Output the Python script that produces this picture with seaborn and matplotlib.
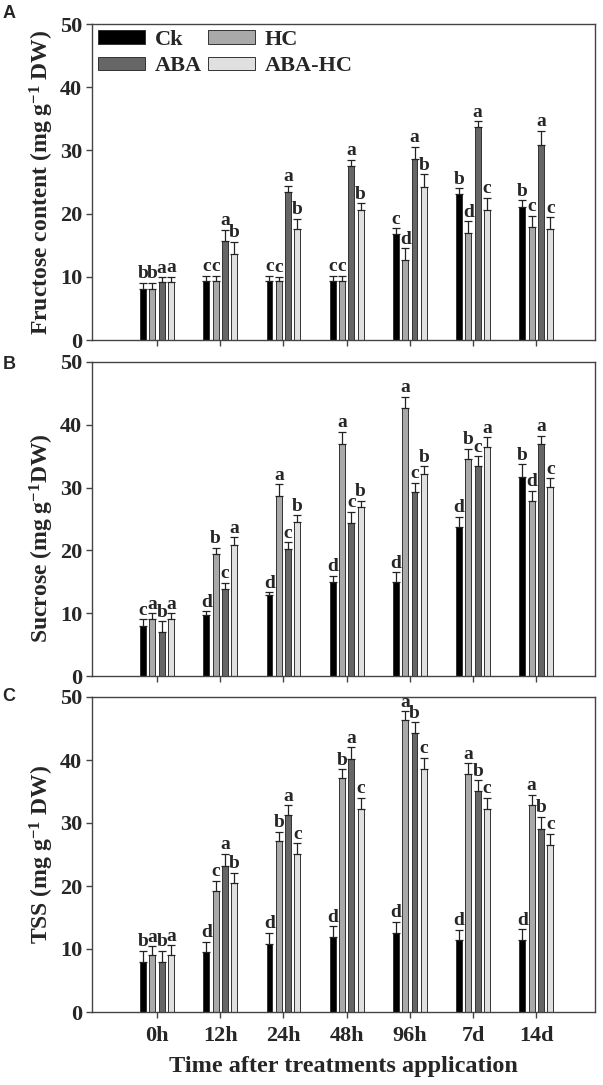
import pandas as pd
import seaborn as sns
import matplotlib.pyplot as plt

# time points and treatments
times = ['0h', '12h', '24h', '48h', '96h', '7d', '14d']
treatments = ['Ck', 'HC', 'ABA', 'ABA-HC']
colors = ['#000000', '#a9a9a9', '#666666', '#e0e0e0']

# Fructose content (mg g-1 DW)
fru_ck = [8.0, 9.4, 9.4, 9.4, 16.8, 23.1, 21.1]
fru_hc = [8.0, 9.4, 9.4, 9.4, 12.7, 17.0, 17.9]
fru_aba = [9.1, 15.7, 23.4, 27.6, 28.7, 33.7, 30.8]
fru_abahc = [9.1, 13.6, 17.5, 20.6, 24.2, 20.6, 17.6]
fru_ck_err = [1.0, 0.8, 0.8, 0.8, 0.9, 0.9, 1.0]
fru_hc_err = [1.0, 0.8, 0.6, 0.8, 1.8, 1.8, 1.7]
fru_aba_err = [0.8, 1.7, 1.0, 0.9, 1.9, 0.9, 2.3]
fru_abahc_err = [0.9, 1.9, 1.7, 1.0, 2.0, 1.9, 1.8]
fru_ck_let = ['b', 'c', 'c', 'c', 'c', 'b', 'b']
fru_hc_let = ['b', 'c', 'c', 'c', 'd', 'd', 'c']
fru_aba_let = ['a', 'a', 'a', 'a', 'a', 'a', 'a']
fru_abahc_let = ['a', 'b', 'b', 'b', 'b', 'c', 'c']

# Sucrose (mg g-1 DW)
suc_ck = [8.0, 9.7, 12.9, 15.0, 15.0, 23.7, 31.7]
suc_hc = [9.0, 19.4, 28.7, 36.9, 42.7, 34.5, 27.8]
suc_aba = [7.0, 13.8, 20.2, 24.3, 29.3, 33.4, 36.9]
suc_abahc = [9.0, 20.9, 24.5, 26.9, 32.2, 36.4, 30.1]
suc_ck_err = [1.0, 0.6, 0.4, 1.0, 1.5, 1.6, 2.0]
suc_hc_err = [1.0, 1.0, 1.8, 2.0, 1.8, 1.7, 1.7]
suc_aba_err = [1.7, 1.0, 1.1, 1.8, 1.5, 1.6, 1.3]
suc_abahc_err = [1.0, 1.2, 1.1, 1.0, 1.2, 1.6, 1.4]
suc_ck_let = ['c', 'd', 'd', 'd', 'd', 'd', 'b']
suc_hc_let = ['a', 'b', 'a', 'a', 'a', 'b', 'd']
suc_aba_let = ['b', 'c', 'c', 'c', 'c', 'c', 'a']
suc_abahc_let = ['a', 'a', 'b', 'b', 'b', 'a', 'c']

# TSS (mg g-1 DW)
tss_ck = [8.0, 9.5, 10.8, 11.9, 12.6, 11.4, 11.5]
tss_hc = [9.0, 19.2, 27.2, 37.1, 46.3, 37.7, 32.8]
tss_aba = [8.0, 23.2, 31.2, 40.2, 44.3, 35.1, 29.0]
tss_abahc = [9.0, 20.4, 25.1, 32.2, 38.6, 32.3, 26.5]
tss_ck_err = [1.7, 1.6, 1.8, 1.7, 1.7, 1.6, 1.6]
tss_hc_err = [1.4, 1.6, 1.4, 1.4, 1.4, 1.8, 1.7]
tss_aba_err = [1.7, 1.9, 1.6, 1.8, 1.7, 1.7, 2.0]
tss_abahc_err = [1.6, 1.7, 1.7, 1.8, 1.7, 1.7, 1.8]
tss_ck_let = ['b', 'd', 'd', 'd', 'd', 'd', 'd']
tss_hc_let = ['a', 'c', 'b', 'b', 'a', 'a', 'a']
tss_aba_let = ['b', 'a', 'a', 'a', 'b', 'b', 'b']
tss_abahc_let = ['a', 'b', 'c', 'c', 'c', 'c', 'c']

sns.set_style('ticks')
plt.rcParams['font.family'] = ['Liberation Serif', 'DejaVu Serif']
plt.rcParams['font.weight'] = 'bold'
plt.rcParams['axes.labelweight'] = 'bold'
plt.rcParams['mathtext.fontset'] = 'custom'
plt.rcParams['mathtext.rm'] = 'Liberation Serif:bold'
plt.rcParams['mathtext.default'] = 'rm'

fig = plt.figure(figsize=(6.03, 10.85), dpi=100)
left, width = 92 / 603, 503 / 603
axA = fig.add_axes([left, 1 - 340 / 1085, width, 316 / 1085])
axB = fig.add_axes([left, 1 - 676 / 1085, width, 314 / 1085])
axC = fig.add_axes([left, 1 - 1012 / 1085, width, 315 / 1085])

panels = [
    (axA, 'A', 5, 'Fructose content (mg g$^{-1}$ DW)',
     [fru_ck, fru_hc, fru_aba, fru_abahc],
     [fru_ck_err, fru_hc_err, fru_aba_err, fru_abahc_err],
     [fru_ck_let, fru_hc_let, fru_aba_let, fru_abahc_let]),
    (axB, 'B', 356, 'Sucrose (mg g$^{-1}$DW)',
     [suc_ck, suc_hc, suc_aba, suc_abahc],
     [suc_ck_err, suc_hc_err, suc_aba_err, suc_abahc_err],
     [suc_ck_let, suc_hc_let, suc_aba_let, suc_abahc_let]),
    (axC, 'C', 688, 'TSS (mg g$^{-1}$ DW)',
     [tss_ck, tss_hc, tss_aba, tss_abahc],
     [tss_ck_err, tss_hc_err, tss_aba_err, tss_abahc_err],
     [tss_ck_let, tss_hc_let, tss_aba_let, tss_abahc_let]),
]

for ax, tag, tag_y, ylab, vals, errs, lets in panels:
    df = pd.DataFrame({
        'time': times * 4,
        'value': sum(vals, []),
        'treatment': [t for t in treatments for _ in times],
    })
    sns.barplot(data=df, x='time', y='value', hue='treatment', order=times,
                hue_order=treatments, palette=colors, width=0.59, gap=0.36,
                edgecolor='#333333', linewidth=0.7, errorbar=None,
                legend=False, ax=ax)
    # upper error bars and significance letters
    for cont, err, let in zip(ax.containers, errs, lets):
        xs = [b.get_x() + b.get_width() / 2 for b in cont]
        hs = [b.get_height() for b in cont]
        ax.errorbar(xs, hs, yerr=[[0] * len(err), err], fmt='none',
                    ecolor='#222222', elinewidth=0.9, capsize=2.8,
                    capthick=0.9)
        for x, h, e, s in zip(xs, hs, err, let):
            ax.text(x, h + e + 0.1, s, ha='center', va='bottom',
                    fontsize=14, fontweight='bold')
    ax.set_ylim(0, 50)
    ax.set_xlim(-1.03, 6.93)
    ax.set_yticks([0, 10, 20, 30, 40, 50])
    ax.set_ylabel(ylab, fontsize=17, fontweight='bold')
    ax.set_xlabel('')
    ax.tick_params(axis='both', labelsize=16, length=4, width=1,
                   color='#444444', pad=3)
    for sp in ax.spines.values():
        sp.set_color('#444444')
        sp.set_linewidth(1)
    ax.yaxis.set_label_coords(-0.072, 0.5)
    fig.text(0.004, 1 - tag_y / 1085, tag, fontsize=13,
             fontweight='bold', family='Liberation Sans', va='top')

axB.yaxis.set_label_coords(-0.072, 0.44)
axA.tick_params(axis='x', labelbottom=False)
axB.tick_params(axis='x', labelbottom=False)
axC.tick_params(axis='x', labelsize=16, pad=6)
axC.set_xlabel('Time after treatments application', fontsize=17.5,
               fontweight='bold', labelpad=7)

# legend: Ck, ABA in first column; HC, ABA-HC in second
hd = axA.containers
axA.legend([hd[0], hd[2], hd[1], hd[3]], ['Ck', 'ABA', 'HC', 'ABA-HC'],
           ncol=2, loc='upper left', frameon=False, fontsize=16,
           handlelength=2.1, handleheight=0.55, columnspacing=0.3,
           handletextpad=0.45, labelspacing=0.3, borderaxespad=0.0,
           bbox_to_anchor=(-0.006, 1.01))

fig.savefig('out.png', dpi=100)
